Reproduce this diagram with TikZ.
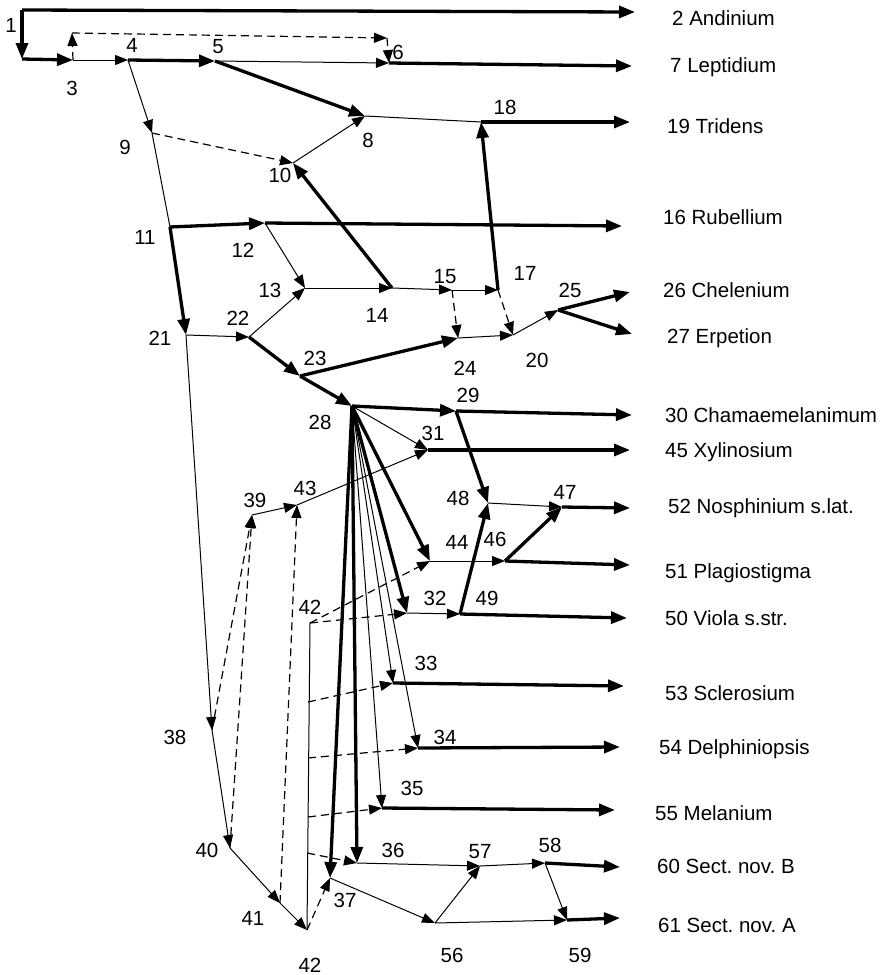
\documentclass[tikz,border=0pt]{standalone}
\usepackage{fontspec}
\setmainfont{Liberation Sans}
\usetikzlibrary{arrows.meta}
\frenchspacing

\tikzset{
  lnk/.style={line width=1pt, -{Triangle[length=13pt,width=10pt]}},
  mainlnk/.style={line width=3.3pt, -{Triangle[length=16pt,width=12pt]}},
  hyblnk/.style={line width=1.2pt, dash pattern=on 8pt off 5pt, -{Triangle[length=13pt,width=10pt]}},
  lab/.style={inner sep=0pt, font=\fontsize{20.5}{24}\selectfont},
  taxon/.style={lab, anchor=west},
}

\begin{document}
\begin{tikzpicture}[x=1pt, y=-1pt]
  \useasboundingbox (0,0) rectangle (896,975);

  \coordinate (n1) at (22,10);
  \coordinate (n1b) at (22,59);
  \coordinate (n3) at (73,60);
  \coordinate (d3) at (72,33);
  \coordinate (d6) at (387,38);
  \coordinate (n4) at (128,60);
  \coordinate (n5) at (215,61);
  \coordinate (n6) at (389,63);
  \coordinate (n8) at (365,116);
  \coordinate (n9) at (152,133);
  \coordinate (n10) at (293,163);
  \coordinate (n18) at (481,122);
  \coordinate (n11) at (170,227);
  \coordinate (n12) at (265,223);
  \coordinate (n13) at (305,288);
  \coordinate (n14) at (392,288);
  \coordinate (n15) at (452,290);
  \coordinate (n17) at (498,290);
  \coordinate (n21) at (186,335);
  \coordinate (n22) at (249,337);
  \coordinate (n23) at (300,376);
  \coordinate (n24) at (458,338);
  \coordinate (n20) at (513,335);
  \coordinate (n25) at (558,310);
  \coordinate (n28) at (352,406);
  \coordinate (n29) at (456,411);
  \coordinate (n31) at (428,450);
  \coordinate (n39) at (252,515);
  \coordinate (n43) at (297,505);
  \coordinate (n48) at (488,503);
  \coordinate (n47) at (562,507);
  \coordinate (n44) at (430,561);
  \coordinate (n46) at (505,561);
  \coordinate (n32) at (407,613);
  \coordinate (n49) at (460,614);
  \coordinate (n42t) at (310,623);
  \coordinate (n33) at (393,683);
  \coordinate (n34) at (418,748);
  \coordinate (n38) at (212,730);
  \coordinate (n35) at (382,808);
  \coordinate (n40) at (230,848);
  \coordinate (n36) at (357,863);
  \coordinate (n57) at (480,866);
  \coordinate (n58) at (545,863);
  \coordinate (n37) at (330,878);
  \coordinate (n41) at (280,903);
  \coordinate (n42) at (307,930);
  \coordinate (n56) at (435,923);
  \coordinate (n59) at (567,920);
  % 42 线上的点
  \coordinate (h33) at (308,702);
  \coordinate (h34) at (308,758);
  \coordinate (h35) at (308,817);
  \coordinate (h36) at (307,853);
  % 箭头终点
  \coordinate (e2) at (635,12);
  \coordinate (e7) at (632,66);
  \coordinate (e19) at (630,122);
  \coordinate (e16) at (622,226);
  \coordinate (e26) at (630,292);
  \coordinate (e27) at (632,334);
  \coordinate (e30) at (632,415);
  \coordinate (e45) at (630,450);
  \coordinate (e52) at (630,508);
  \coordinate (e51) at (630,565);
  \coordinate (e50) at (627,618);
  \coordinate (e53) at (624,686);
  \coordinate (e54) at (620,747);
  \coordinate (e55) at (615,810);
  \coordinate (e60) at (620,867);
  \coordinate (e61) at (620,918);

  % 粗线
  \draw[mainlnk] (n1)--(e2);
  \draw[mainlnk] (n1)--(n1b);
  \draw[mainlnk] (n1b)--(n3);
  \draw[mainlnk] (n4)--(n5);
  \draw[mainlnk] (n6)--(e7);
  \draw[mainlnk] (n5)--(n8);
  \draw[mainlnk] (n18)--(e19);
  \draw[mainlnk] (n14)--(n10);
  \draw[mainlnk] (n11)--(n12);
  \draw[mainlnk] (n12)--(e16);
  \draw[mainlnk] (n17)--(n18);
  \draw[mainlnk] (n25)--(e26);
  \draw[mainlnk] (n25)--(e27);
  \draw[mainlnk] (n11)--(n21);
  \draw[mainlnk] (n22)--(n23);
  \draw[mainlnk] (n23)--(n24);
  \draw[mainlnk] (n23)--(n28);
  \draw[mainlnk] (n28)--(n29);
  \draw[mainlnk] (n29)--(e30);
  \draw[mainlnk] (n31)--(e45);
  \draw[mainlnk] (n29)--(n48);
  \draw[mainlnk] (n49)--(n48);
  \draw[mainlnk] (n47)--(e52);
  \draw[mainlnk] (n28)--(n44);
  \draw[mainlnk] (n46)--(n47);
  \draw[mainlnk] (n46)--(e51);
  \draw[mainlnk] (n28)--(n32);
  \draw[mainlnk] (n49)--(e50);
  \draw[mainlnk] (n33)--(e53);
  \draw[mainlnk] (n34)--(e54);
  \draw[mainlnk] (n35)--(e55);
  \draw[mainlnk] (n28)--(n36);
  \draw[mainlnk] (n58)--(e60);
  \draw[mainlnk] (n59)--(e61);
  \draw[mainlnk] (n28)--(n37);

  % 细线
  \draw[lnk] (n3)--(n4);
  \draw[lnk] (n5)--(n6);
  \draw[line width=1pt] (n8)--(n18);
  \draw[lnk] (n4)--(n9);
  \draw[line width=1pt] (n9)--(n11);
  \draw[lnk] (n10)--(n8);
  \draw[lnk] (n12)--(n13);
  \draw[lnk] (n13)--(n14);
  \draw[lnk] (n14)--(n15);
  \draw[lnk] (n15)--(n17);
  \draw[lnk] (n24)--(n20);
  \draw[lnk] (n20)--(n25);
  \draw[lnk] (n21)--(n22);
  \draw[lnk] (n22)--(n13);
  \draw[lnk] (n21)--(n38);
  \draw[lnk] (n38)--(n40);
  \draw[lnk] (n39)--(n43);
  \draw[lnk] (n43)--(n31);
  \draw[lnk] (n40)--(n41);
  \draw[lnk] (n41)--(n42);
  \draw[line width=1pt] (n42)--(n42t);
  \draw[lnk] (n28)--(n31);
  \draw[lnk] (n48)--(n47);
  \draw[lnk] (n44)--(n46);
  \draw[lnk] (n32)--(n49);
  \draw[lnk] (n28)--(n33);
  \draw[lnk] (n28)--(n34);
  \draw[lnk] (n28)--(n35);
  \draw[lnk] (n36)--(n57);
  \draw[lnk] (n57)--(n58);
  \draw[lnk] (n58)--(n59);
  \draw[lnk] (n37)--(n56);
  \draw[lnk] (n56)--(n57);
  \draw[lnk] (n56)--(n59);

  % 虚线
  \draw[hyblnk] (n3)--(d3);
  \draw[hyblnk] (d3)--(d6);
  \draw[hyblnk] (d6)--(n6);
  \draw[hyblnk] (n9)--(n10);
  \draw[hyblnk] (n15)--(n24);
  \draw[hyblnk] (n17)--(n20);
  \draw[hyblnk] (n38)--(n39);
  \draw[hyblnk] (n40)--(n39);
  \draw[hyblnk] (n41)--(n43);
  \draw[hyblnk] (n42)--(n37);
  \draw[hyblnk] (n42t)--(n44);
  \draw[hyblnk] (n42t)--(n32);
  \draw[hyblnk] (h33)--(n33);
  \draw[hyblnk] (h34)--(n34);
  \draw[hyblnk] (h35)--(n35);
  \draw[hyblnk] (h36)--(n36);

  % 编号
  \node[lab] (l1) at (11,25) {1};
  \node[lab] (l3) at (72,88) {3};
  \node[lab] (l4) at (132,45) {4};
  \node[lab] (l5) at (218,47) {5};
  \node[lab] (l6) at (398,52) {6};
  \node[lab] (l8) at (368,140) {8};
  \node[lab] (l9) at (125,147) {9};
  \node[lab] (l10) at (280,175) {10};
  \node[lab] (l11) at (145,237) {11};
  \node[lab] (l12) at (243,250) {12};
  \node[lab] (l13) at (270,290) {13};
  \node[lab] (l14) at (377,315) {14};
  \node[lab] (l15) at (445,277) {15};
  \node[lab] (l17) at (525,273) {17};
  \node[lab] (l18) at (505,107) {18};
  \node[lab] (l20) at (537,360) {20};
  \node[lab] (l21) at (160,338) {21};
  \node[lab] (l22) at (238,318) {22};
  \node[lab] (l23) at (315,358) {23};
  \node[lab] (l24) at (465,368) {24};
  \node[lab] (l25) at (570,290) {25};
  \node[lab] (l28) at (320,422) {28};
  \node[lab] (l29) at (468,395) {29};
  \node[lab] (l31) at (433,433) {31};
  \node[lab] (l32) at (435,598) {32};
  \node[lab] (l33) at (426,663) {33};
  \node[lab] (l34) at (445,737) {34};
  \node[lab] (l35) at (412,788) {35};
  \node[lab] (l36) at (393,850) {36};
  \node[lab] (l37) at (345,900) {37};
  \node[lab] (l38) at (175,737) {38};
  \node[lab] (l39) at (255,500) {39};
  \node[lab] (l40) at (207,850) {40};
  \node[lab] (l41) at (253,918) {41};
  \node[lab] (l42t) at (310,607) {42};
  \node[lab] (l42) at (310,965) {42};
  \node[lab] (l43) at (305,488) {43};
  \node[lab] (l44) at (457,542) {44};
  \node[lab] (l46) at (495,539) {46};
  \node[lab] (l47) at (565,492) {47};
  \node[lab] (l48) at (458,498) {48};
  \node[lab] (l49) at (487,598) {49};
  \node[lab] (l56) at (452,955) {56};
  \node[lab] (l57) at (480,852) {57};
  \node[lab] (l58) at (550,845) {58};
  \node[lab] (l59) at (580,955) {59};

  % 类群
  \node[taxon] (t2) at (672,18) {2 Andinium};
  \node[taxon] (t7) at (670,67) {7 Leptidium};
  \node[taxon] (t19) at (667,126) {19 Tridens};
  \node[taxon] (t16) at (663,217) {16 Rubellium};
  \node[taxon] (t26) at (663,290) {26 Chelenium};
  \node[taxon] (t27) at (667,338) {27 Erpetion};
  \node[taxon] (t30) at (665,415) {30 Chamaemelanimum};
  \node[taxon] (t45) at (665,452) {45 Xylinosium};
  \node[taxon] (t52) at (668,508) {52 Nosphinium s.lat.};
  \node[taxon] (t51) at (665,573) {51 Plagiostigma};
  \node[taxon] (t50) at (665,618) {50 Viola s.str.};
  \node[taxon] (t53) at (665,693) {53 Sclerosium};
  \node[taxon] (t54) at (659,749) {54 Delphiniopsis};
  \node[taxon] (t55) at (655,813) {55 Melanium};
  \node[taxon] (t60) at (657,866) {60 Sect. nov. B};
  \node[taxon] (t61) at (658,925) {61 Sect. nov. A};
\end{tikzpicture}
\end{document}
